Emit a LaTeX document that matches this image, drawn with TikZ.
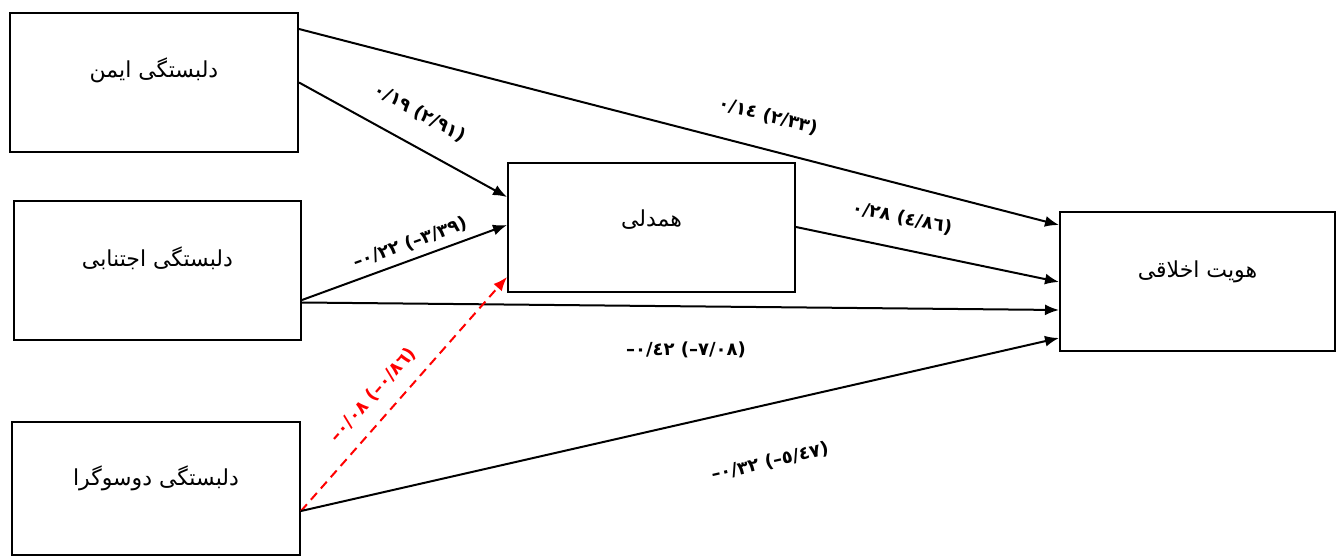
\documentclass[tikz,border=0pt]{standalone}
\usepackage{fontspec}
\setmainfont{Liberation Serif}
\newfontfamily\fa[Script=Arabic]{DejaVu Sans}
\newfontfamily\numf{DejaVu Sans}
\TeXXeTstate=1
\usetikzlibrary{arrows.meta,calc}
\begin{document}
\begin{tikzpicture}[x=1pt,y=-1pt,
  box/.style={draw, line width=2pt, inner sep=0pt},
  txt/.style={font=\fa\fontsize{22}{26}\selectfont},
  arr/.style={line width=2pt, -{Latex[length=14pt,width=11pt]}},
  lbl/.style={font=\numf\bfseries\fontsize{18}{20}\selectfont, inner sep=1pt}]
\useasboundingbox (0,0) rectangle (1336,556);
\fill[white] (0,0) rectangle (1336,556);

\node[box, minimum width=288pt, minimum height=139pt,
  label={[txt,yshift=12pt]center:\beginR دلبستگی ایمن\endR}] (A) at (154,82.5) {};
\node[box, minimum width=287pt, minimum height=139pt,
  label={[txt,yshift=12pt]center:\beginR دلبستگی اجتنابی\endR}] (B) at (157.5,270.5) {};
\node[box, minimum width=288pt, minimum height=133pt,
  label={[txt,yshift=10pt]center:\beginR دلبستگی دوسوگرا\endR}] (C) at (156,488.5) {};
\node[box, minimum width=287pt, minimum height=129pt,
  label={[txt,yshift=8pt]center:\beginR همدلی\endR}] (M) at (651.5,227.5) {};
\node[box, minimum width=275pt, minimum height=139pt,
  label={[txt,yshift=10pt]center:\beginR هویت اخلاقی\endR}] (D) at (1197.5,281.5) {};

\draw[arr] ($(A.north east)+(0,17)$) -- ($(D.north west)+(0,14)$);
\draw[arr] (A.east) -- ($(M.north west)+(0,35)$);
\draw[arr] ($(B.east)+(0,29.5)$) -- ($(M.north west)+(0,63)$);
\draw[arr] ($(B.east)+(0,32)$) -- ($(D.north west)+(0,99)$);
\draw[arr, red, dash pattern=on 9pt off 6pt] ($(C.north east)+(0,90)$) -- ($(M.south west)+(0,-16)$);
\draw[arr] ($(C.north east)+(0,90)$) -- ($(D.south west)+(0,-14)$);
\draw[arr] ($(M.north east)+(0,65)$) -- ($(D.north west)+(0,71)$);

\node[lbl, rotate=-29] (l1) at (420,113) {۰/۱۹ (۲/۹۱)};
\node[lbl, rotate=-14.4] (l2) at (768,116) {۰/۱٤ (۲/۳۳)};
\node[lbl, rotate=19.7] (l3) at (410,243) {–۰/۲۲ (–۳/۳۹)};
\node[lbl, rotate=-11.7] (l4) at (902,218) {۰/۲۸ (٤/۸٦)};
\node[lbl] (l5) at (686,350) {–۰/٤۲ (–٧/۰۸)};
\node[lbl, rotate=13] (l6) at (770,462) {–۰/۳۲ (–٥/٤٧)};
\node[lbl, red, rotate=48.6] (l7) at (373,395) {–۰/۰۸ (–۰/۸٦)};
\end{tikzpicture}
\end{document}
